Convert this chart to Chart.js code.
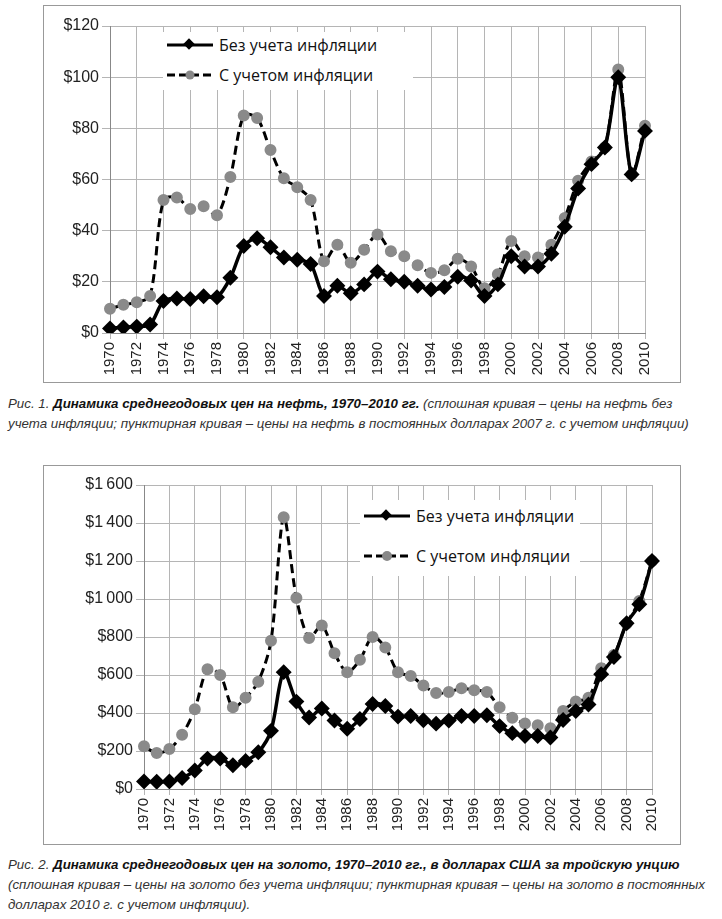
<!DOCTYPE html>
<html>
<head>
<meta charset="utf-8">
<script src="https://cdn.jsdelivr.net/npm/chart.js@4"></script>
<style>
  body { margin: 0; background: #fff; width: 722px; height: 919px; position: relative; font-family: "Liberation Sans", Arial, sans-serif; }
  .frame { position: absolute; left: 43px; width: 636px; border: 1.5px solid #999; background: #fff; }
  .frame canvas { position: absolute; left: 0; top: 0; }
  .legend { position: absolute; background: #fff; font-family: "Open Sans", sans-serif; font-size: 16px; color: #111; }
  .legend div { position: absolute; white-space: nowrap; }
  .cap { position: absolute; left: 8px; width: 706px; font-size: 13.3px; font-style: italic; color: #333; line-height: 20px; }
  .cap b { color: #111; }
</style>
</head>
<body>
<div class="frame" style="top:5px;height:376px"><canvas id="oil"></canvas></div>
<div class="legend" style="left:163px;top:32px;width:250px;height:58px">
  <div style="left:0;top:1px"><svg width="52" height="24"><line x1="4" y1="12" x2="50" y2="12" stroke="#000" stroke-width="3"/><rect x="22" y="7" width="8" height="8" fill="#000" transform="rotate(45 26 11)"/></svg></div>
  <div style="left:56px;top:2px">Без учета инфляции</div>
  <div style="left:0;top:31px"><svg width="52" height="24"><line x1="4" y1="12" x2="50" y2="12" stroke="#000" stroke-width="3" stroke-dasharray="8,4"/><circle cx="27" cy="12" r="4.5" fill="#888"/></svg></div>
  <div style="left:56px;top:32px">С учетом инфляции</div>
</div>
<div class="cap" style="top:394px">Рис. 1. <b>Динамика среднегодовых цен на нефть, 1970–2010 гг.</b> (сплошная кривая – цены на нефть без учета инфляции; пунктирная кривая – цены на нефть в постоянных долларах 2007 г. с учетом инфляции)</div>

<div class="frame" style="top:465px;height:378px"><canvas id="gold"></canvas></div>
<div class="legend" style="left:360px;top:500px;width:220px;height:76px">
  <div style="left:0;top:4px"><svg width="52" height="24"><line x1="4" y1="12" x2="50" y2="12" stroke="#000" stroke-width="3"/><rect x="22" y="7" width="8" height="8" fill="#000" transform="rotate(45 26 11)"/></svg></div>
  <div style="left:56px;top:5px">Без учета инфляции</div>
  <div style="left:0;top:44px"><svg width="52" height="24"><line x1="4" y1="12" x2="50" y2="12" stroke="#000" stroke-width="3" stroke-dasharray="8,4"/><circle cx="27" cy="12" r="5" fill="#888"/></svg></div>
  <div style="left:56px;top:45px">С учетом инфляции</div>
</div>
<div class="cap" style="top:855px">Рис. 2. <b>Динамика среднегодовых цен на золото, 1970–2010 гг., в долларах США за тройскую унцию</b> (сплошная кривая – цены на золото без учета инфляции; пунктирная кривая – цены на золото в постоянных долларах 2010 г. с учетом инфляции).</div>

<script>
const years = [];
for (let y = 1970; y <= 2010; y++) years.push(String(y));

const oilNominal = [1.8, 2.2, 2.5, 3.3, 12.5, 13.5, 13.3, 14.4, 14, 21.6, 34, 37, 33.5, 29.5, 28.6, 27, 14.5, 18.5, 15.5, 19,
  24, 21, 20, 18.5, 17, 18, 22, 20.5, 14.5, 19, 30, 26, 26, 31, 41.5, 56.5, 66, 72.5, 100, 62, 79];
const oilReal = [9.5, 11, 12, 14.5, 52, 53, 48.5, 49.5, 46, 61, 85, 84, 71.5, 60.5, 57, 52, 28, 34.5, 27.5, 32.5,
  38.5, 32, 30, 26.5, 23.5, 24.5, 29, 26, 17.5, 23, 36, 30, 29.5, 34.5, 45, 59.5, 67, 72.5, 103, 62, 81];
const goldNominal = [40, 38, 40, 58, 97, 160, 161, 125, 148, 193, 306, 615, 460, 376, 424, 361, 317, 368, 447, 437,
  381, 384, 362, 344, 360, 384, 384, 388, 331, 294, 279, 279, 271, 363, 410, 445, 604, 695, 872, 972, 1200];
const goldReal = [225, 190, 210, 285, 420, 630, 600, 430, 480, 565, 780, 1430, 1005, 795, 860, 715, 615, 680, 800, 745,
  615, 595, 545, 505, 510, 530, 520, 510, 430, 375, 345, 335, 320, 410, 460, 480, 635, 705, 870, 990, 1200];

const oilTicks = { min: 0, max: 120, step: 20 };
const goldTicks = { min: 0, max: 1600, step: 200 };

function build(id, w, h, nominal, real, ticks, fmt, pad, yWidth, xHeight) {
  const c = document.getElementById(id);
  c.width = w; c.height = h;
  c.style.width = w + 'px'; c.style.height = h + 'px';
  new Chart(c, {
    type: 'line',
    data: {
      labels: years,
      datasets: [{
        label: 'Без учета инфляции',
        data: nominal,
        borderColor: '#000',
        backgroundColor: '#000',
        borderWidth: 3.5,
        pointStyle: 'rectRot',
        pointRadius: 5.5,
        tension: 0.3
      }, {
        label: 'С учетом инфляции',
        data: real,
        borderColor: '#000',
        backgroundColor: '#8a8a8a',
        pointBorderColor: '#8a8a8a',
        borderWidth: 3,
        borderDash: [9, 5],
        pointRadius: 4.5,
        tension: 0.3
      }]
    },
    options: {
      responsive: false,
      animation: false,
      layout: { padding: pad },
      plugins: { legend: { display: false }, tooltip: { enabled: false } },
      scales: {
        x: {
          offset: false,
          afterFit: s => { s.height = xHeight; },
          grid: {
            color: ctx => ctx.index % 2 === 0 ? '#b5b5b5' : 'rgba(0,0,0,0)',
            tickLength: 6
          },
          border: { color: '#888' },
          ticks: {
            autoSkip: false,
            maxRotation: 90, minRotation: 90,
            color: '#222',
            font: { family: 'Liberation Sans', size: 15 },
            callback: (v, i) => i % 2 === 0 ? years[i] : ''
          }
        },
        y: {
          min: ticks.min, max: ticks.max,
          afterFit: s => { s.width = yWidth; },
          grid: { color: '#b5b5b5', tickLength: 8 },
          border: { color: '#888' },
          ticks: {
            stepSize: ticks.step,
            color: '#222',
            font: { family: 'Liberation Sans', size: 16 },
            callback: fmt
          }
        }
      }
    }
  });
}

build('oil', 636, 376, oilNominal, oilReal, oilTicks, v => '$' + v,
  { left: 0, right: 35, top: 20, bottom: 0 }, 66, 49);
build('gold', 636, 378, goldNominal, goldReal, goldTicks,
  v => '$' + (v >= 1000 ? Math.floor(v / 1000) + '\u2009' + String(v % 1000).padStart(3, '0') : v),
  { left: 0, right: 28, top: 19, bottom: 0 }, 100, 55);
</script>
</body>
</html>
